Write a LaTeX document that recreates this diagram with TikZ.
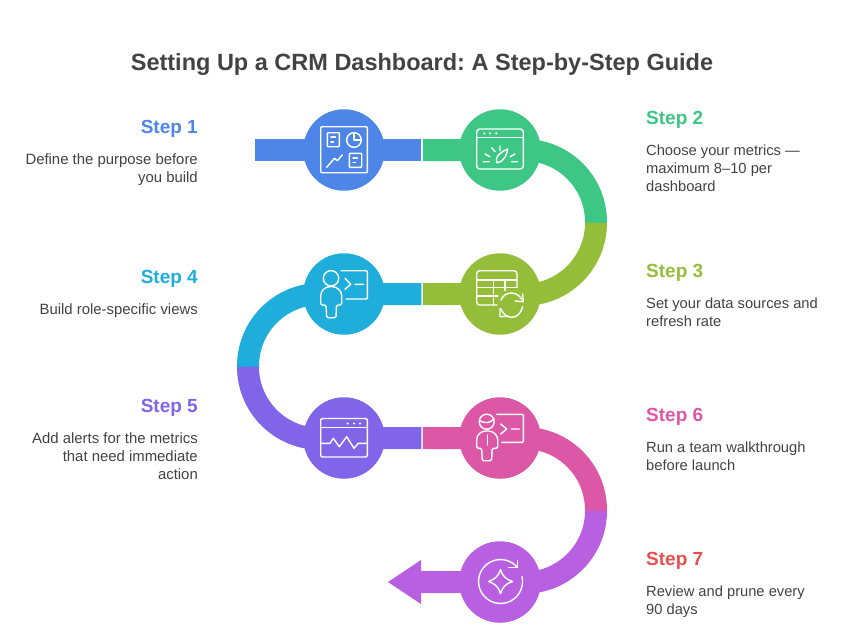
\documentclass[tikz,border=0pt]{standalone}
\usepackage{fontspec}
\setmainfont{Liberation Sans}
\usetikzlibrary{backgrounds}
\definecolor{cblue}{HTML}{4E86E8}
\definecolor{cgreen}{HTML}{3EC685}
\definecolor{colive}{HTML}{94BD3A}
\definecolor{ccyan}{HTML}{1FADDC}
\definecolor{cpurple}{HTML}{8065E8}
\definecolor{cpink}{HTML}{DC57A6}
\definecolor{cviolet}{HTML}{B85FE2}
\definecolor{cred}{HTML}{E8504F}
\definecolor{ctext}{HTML}{424242}
\tikzset{
  hub/.style={circle,fill=#1,minimum size=81.5pt,inner sep=0pt},
  band/.style={line width=22pt,line cap=butt,line join=round,draw=#1},
  ico/.style={draw=white,line width=1.4pt,line cap=round,line join=round,fill=none},
  dotf/.style={fill=white,draw=none},
  title/.style={font=\fontsize{23.5}{28}\selectfont\bfseries,text=ctext,anchor=base,inner sep=0pt},
  headl/.style={font=\fontsize{19}{24}\selectfont\bfseries,text=#1,anchor=base west,inner sep=0pt},
  headr/.style={font=\fontsize{19}{24}\selectfont\bfseries,text=#1,anchor=base east,inner sep=0pt},
  bodyl/.style={font=\fontsize{14.7}{18}\selectfont,text=ctext,anchor=base west,align=left,inner sep=0pt},
  bodyr/.style={font=\fontsize{14.9}{18}\selectfont,text=ctext,anchor=base east,align=right,inner sep=0pt},
}
\frenchspacing
\begin{document}
\begin{tikzpicture}[x=1pt,y=-1pt]
\useasboundingbox (0,0) rectangle (850,641);
% title
\node[title] (ttl) at (422,70) {Setting Up a CRM Dashboard: A Step-by-Step Guide};
% hubs
\node[hub=cblue] (h1) at (344,150) {};
\node[hub=cgreen] (h2) at (500,150) {};
\node[hub=colive] (h3) at (500,294) {};
\node[hub=ccyan] (h4) at (344,294) {};
\node[hub=cpurple] (h5) at (344,438) {};
\node[hub=cpink] (h6) at (500,438) {};
\node[hub=cviolet] (h7) at (500,582) {};
% free points
\coordinate (start) at (255,150);
\coordinate (s12) at (421.4,150);
\coordinate (s12b) at (422.9,150);
\coordinate (s34) at (421.4,294);
\coordinate (s34b) at (422.9,294);
\coordinate (s56) at (421.4,438);
\coordinate (s56b) at (422.9,438);
\coordinate (tail) at (421,582);
\begin{pgfonlayer}{background}
\draw[band=cblue] (start) -- (h1.center) -- (s12);
\draw[band=cgreen] (s12b) -- (h2.center) -- (524,150) arc (-90:0:72) -- ++(0,-0.6);
\draw[band=colive] (596,222.8) arc (0:90:72) -- (h3.center) -- (s34b);
\draw[band=ccyan] (s34) -- (h4.center) -- (320,294) arc (-90:-180:72) -- ++(0,-0.6);
\draw[band=cpurple] (248,366.8) arc (180:90:72) -- (h5.center) -- (s56);
\draw[band=cpink] (s56b) -- (h6.center) -- (524,438) arc (-90:0:72) -- ++(0,-0.6);
\draw[band=cviolet] (596,510.8) arc (0:90:72) -- (h7.center) -- (tail);
\fill[cviolet] (421,560) -- (388,582) -- (421,604) -- cycle;
\end{pgfonlayer}
% icon 1: dashboard
\begin{scope}[shift={(344,150)}]
\draw[ico,rounded corners=1pt] (-23.3,-23.3) rectangle (23.3,22.7);
\draw[ico,rounded corners=.8pt] (-16.7,-17.3) rectangle (-4.7,-3.3);
\draw[ico] (-13,-13) -- (-8.5,-13) (-13,-8) -- (-10.5,-8);
\draw[ico] (10,-10) circle (7.3);
\draw[ico] (10,-17.3) -- (10,-10) -- (17.3,-10);
\draw[ico] (-17.3,17.3) -- (-9.5,8.3) -- (-6.7,10.7) -- (-1.7,5);
\draw[ico,rounded corners=.8pt] (5.3,3.3) rectangle (17.7,17.3);
\draw[ico] (9,8) -- (13.5,8) (9,12.5) -- (11.5,12.5);
\end{scope}
% icon 2: gauge window
\begin{scope}[shift={(500,150)}]
\draw[ico,rounded corners=3pt] (-23.3,-21) rectangle (23.3,19);
\draw[ico] (-23.3,-12.3) -- (23.3,-12.3);
\fill[dotf] (-15.7,-16.7) circle (1.2) (-10,-16.7) circle (1.2) (-3.7,-16.7) circle (1.2);
\draw[ico] (-3.3,12.7) .. controls (-6,7) and (2,1) .. (7.7,-1) .. controls (7,3) and (5,12) .. (-3.3,12.7) -- cycle;
\draw[ico] (-15,4) -- (-10,6.7) (-8.3,-2.3) -- (-5,1.7) (0,-4) -- (0,0.7) (15,4) -- (10,6.7)
  (-16.7,11.7) -- (-10.7,11.7) (11.7,11.7) -- (17.3,11.7);
\end{scope}
% icon 3: table with refresh
\begin{scope}[shift={(500,294)}]
\draw[ico,rounded corners=3pt] (-3,11) -- (-23.3,11) -- (-23.3,-23.3) -- (17,-23.3) -- (17,-6.7);
\draw[ico] (-23.3,-14) -- (17,-14) (-23.3,-6.7) -- (17,-6.7) (-23.3,2) -- (-2,2);
\draw[ico] (-6.7,-14) -- (-6.7,11) (5,-14) -- (5,-3.5);
\draw[ico] (1,6) .. controls (3,1) and (7,-1) .. (11.7,-1) .. controls (16,-1) and (20,2) .. (23,6.7);
\draw[ico] (22.7,0) -- (23.3,7.7) -- (15,7);
\draw[ico] (22.7,12.7) .. controls (21,19) and (17,23.3) .. (11.7,23.3) .. controls (7,23.3) and (3,20) .. (1,15);
\draw[ico] (0,14.3) -- (0,22.7) -- (8.3,22);
\end{scope}
% icon 4: presenter
\begin{scope}[shift={(344,294)}]
\draw[ico] (-13,-15.7) circle (7.7);
\draw[ico,rounded corners=1pt] (-3,-23.3) -- (23.3,-23.3) -- (23.3,5) -- (2,5);
\draw[ico] (1,-15.7) -- (6.7,-9.7) -- (1,-4.7) (11,-9.7) -- (19.3,-9.7);
\draw[ico,rounded corners=1.5pt] (-8,23.7) -- (-17.3,23.7) -- (-18,11) -- (-23.3,11) -- (-23.3,3)
  .. controls (-23.3,-3) and (-19,-7.3) .. (-13,-7.3)
  .. controls (-7,-7.3) and (-2.3,-3) .. (-2.3,3) -- (-2.3,11) -- (-7.5,11) -- cycle;
\end{scope}
% icon 5: monitor window
\begin{scope}[shift={(344,438)}]
\draw[ico,rounded corners=1.5pt] (-23.3,-19.5) rectangle (23.3,19);
\draw[ico] (-23.3,-10.7) -- (23.3,-10.7);
\fill[dotf] (3.7,-14.5) circle (1.2) (10,-14.5) circle (1.2) (16,-14.5) circle (1.2);
\draw[ico] (-23.3,5.3) -- (-14,5.3) -- (-10.7,0.3) -- (-4.7,8.7) -- (2.7,-1.3) -- (10,10.3) -- (14.3,5.3) -- (23.3,5.3);
\end{scope}
% icon 6: presenter with tie
\begin{scope}[shift={(500,438)}]
\draw[ico] (-13.3,-16.3) circle (7.5);
\draw[ico] (-20.5,-17.5) .. controls (-15,-14) and (-10,-15) .. (-6,-19);
\draw[ico,rounded corners=1pt] (-3.3,-23.7) -- (23.3,-23.7) -- (23.3,4.3) -- (1.7,4.3);
\draw[ico] (0.7,-14) -- (6.7,-9) -- (0.7,-4) (11,-9) -- (19.3,-9);
\draw[ico] (-12.7,-3) -- (-12.7,7);
\draw[ico,rounded corners=1.5pt] (-8.3,22.7) -- (-17.8,22.7) -- (-18.3,10.3) -- (-23.3,10.3) -- (-23.3,3)
  .. controls (-23.3,-3) and (-19,-7) .. (-13,-7)
  .. controls (-7,-7) and (-2.3,-3) .. (-2.3,3) -- (-2.3,10.3) -- (-8,10.3) -- cycle;
\end{scope}
% icon 7: refresh star
\begin{scope}[shift={(500.5,581.5)}]
\draw[ico] (17,-14) arc (-39.5:-373:22);
\draw[ico] (17,-21) -- (17,-14) -- (8,-14);
\draw[ico] (0,-12) .. controls (2,-5) and (6,-2) .. (12,0) .. controls (6,2) and (2,5) .. (0,12) .. controls (-2,5) and (-6,2) .. (-12,0) .. controls (-6,-2) and (-2,-5) .. (0,-12) -- cycle;
\end{scope}
% labels
\node[headr=cblue] (t1) at (198,133) {Step 1};
\node[bodyr] (b1) at (198,182) {Define the purpose before\\you build};
\node[headl=cgreen] (t2) at (646,124) {Step 2};
\node[bodyl] (b2) at (646,191) {Choose your metrics —\\maximum 8–10 per\\dashboard};
\node[headl=colive] (t3) at (646,277) {Step 3};
\node[bodyl] (b3) at (646,326) {Set your data sources and\\refresh rate};
\node[headr=ccyan] (t4) at (198,283) {Step 4};
\node[bodyr] (b4) at (198,314) {Build role-specific views};
\node[headr=cpurple] (t5) at (198,412) {Step 5};
\node[bodyr] (b5) at (198,479) {Add alerts for the metrics\\that need immediate\\action};
\node[headl=cpink] (t6) at (646,421) {Step 6};
\node[bodyl] (b6) at (646,470) {Run a team walkthrough\\before launch};
\node[headl=cred] (t7) at (646,565) {Step 7};
\node[bodyl] (b7) at (646,614) {Review and prune every\\90 days};
\end{tikzpicture}
\end{document}
